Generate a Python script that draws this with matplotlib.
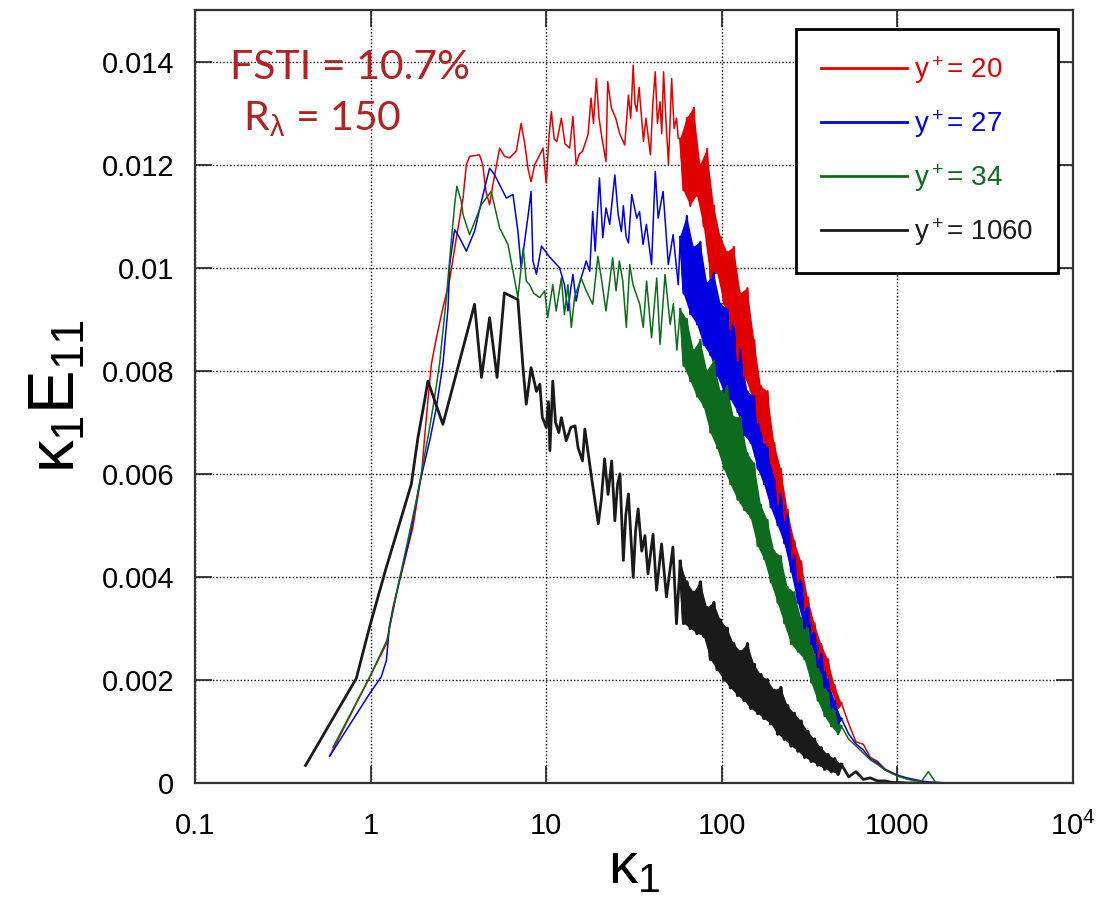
import numpy as np
import matplotlib
matplotlib.use('Agg')
from matplotlib import pyplot as plt
from matplotlib.ticker import NullLocator

# wavenumber grid of the dense (high k) part, shared by all spectra
k_band = [58, 60.6, 63.3, 66.2, 69.2, 72.3, 75.5, 78.9, 82.5, 86.2,
          90.1, 94.1, 98.4, 102.8, 107.4, 112, 117, 123, 128, 134,
          140, 146, 153, 160, 167, 174, 182, 190, 199, 208,
          217, 227, 237, 248, 259, 271, 283, 296, 309, 323,
          337, 352, 368, 385, 402, 420, 439, 459, 480,
          528, 580, 640, 700, 770, 850, 935, 1030, 1130, 1240,
          1370, 1500, 1650, 1800, 2000]
n_dense = 49  # points up to k = 480 swing between upper and lower edge

# y+ = 20 (values of k1*E11 in units of 1e-3)
k_red = [0.584, 0.99, 1.23, 1.34, 1.53, 1.74, 1.95, 2.03, 2.12, 2.22,
         2.37, 2.58, 2.81, 3.08, 3.36, 3.51, 3.66, 4.17, 4.35, 4.54,
         4.76, 4.97, 5.43, 5.80, 6.19, 6.75, 7.20, 7.55, 7.90, 8.20,
         8.60, 9.00, 9.60, 10.0, 10.4, 10.7, 11.1, 11.5, 12.2, 12.8,
         13.6, 14.2, 14.8, 15.4, 16.1, 17.3, 18.0, 18.6, 19.3, 20.0,
         20.8, 21.9, 22.4, 23.5, 24.9, 26.2, 28.0, 29.4, 30.3, 31.3,
         32.0, 32.8, 33.8, 35.8, 37.0, 39.2, 40.5, 41.8, 43.0, 44.5,
         45.5, 46.6, 48.0, 49.7, 51.8, 53.5, 55.2, 56.5]
e_red = [0.52, 2.06, 2.70, 3.41, 4.19, 4.96, 6.00, 6.70, 7.42, 8.13,
         8.64, 9.22, 9.74, 10.58, 11.35, 12.00, 12.16, 12.19, 12.00, 11.48,
         11.22, 11.61, 12.32, 12.16, 12.13, 12.26, 12.80, 12.40, 11.90, 11.67,
         12.00, 12.13, 12.32, 11.64, 12.60, 13.03, 12.50, 12.45, 12.90, 12.40,
         12.32, 12.93, 12.00, 12.20, 12.26, 12.58, 13.29, 12.80, 13.67, 12.90,
         12.50, 12.06, 13.61, 13.10, 12.90, 12.60, 12.38, 13.35, 12.90, 13.93,
         13.20, 13.03, 13.50, 12.45, 12.90, 12.19, 13.20, 13.80, 12.80, 13.22,
         12.60, 13.80, 12.90, 12.00, 13.67, 12.70, 12.90, 12.51]
red_band = [12.5, 11.5, 12.9, 11.2, 13.1, 11.4, 12.0, 10.8, 12.3, 9.8,
            11.2, 9.9, 10.6, 9.3, 10.3, 8.8, 10.4, 8.2, 9.5, 7.9,
            9.6, 7.6, 8.6, 7.0, 7.7, 6.6, 7.6, 6.2, 6.6, 5.4,
            6.1, 5.1, 5.3, 4.3, 4.7, 3.9, 4.3, 3.35, 3.6, 2.9,
            3.1, 2.4, 2.7, 2.2, 2.4, 1.8, 1.9, 1.45, 1.55,
            1.15, 0.8, 0.75, 0.5, 0.42, 0.27, 0.2, 0.13, 0.08, 0.05,
            0.025, 0.015, 0.01, 0.005, 0.0]

# y+ = 27
k_blue = [0.584, 0.99, 1.15, 1.23, 1.28, 1.46, 1.67, 1.90, 2.17, 2.37,
          2.58, 2.76, 2.82, 3.01, 3.21, 3.51, 3.91, 4.37, 4.76, 5.09,
          5.93, 6.47, 6.90, 7.20, 7.90, 8.20, 8.40, 8.80, 9.40, 10.2,
          10.5, 11.9, 12.7, 13.3, 13.8, 14.2, 14.8, 15.5, 16.9, 17.7,
          18.4, 19.0, 20.1, 21.0, 21.9, 23.0, 24.6, 25.7, 26.8, 27.5,
          28.5, 29.4, 30.7, 32.8, 34.0, 35.6, 37.2, 39.8, 41.8, 43.4,
          46.3, 49.6, 52.8, 56.5]
e_blue = [0.52, 1.74, 2.06, 2.38, 3.03, 3.93, 4.77, 5.80, 6.64, 7.29,
          8.13, 9.22, 10.06, 10.74, 10.58, 10.32, 10.71, 11.42, 11.93, 11.80,
          11.35, 11.42, 10.71, 10.00, 11.03, 11.48, 10.13, 9.87, 10.42, 10.26,
          10.20, 10.00, 9.67, 9.16, 9.60, 9.87, 9.35, 9.70, 10.13, 9.93,
          11.09, 10.32, 11.74, 10.58, 11.16, 10.84, 11.80, 11.03, 10.70, 11.20,
          10.60, 10.48, 11.42, 10.96, 11.09, 10.45, 10.84, 10.06, 11.87, 10.96,
          11.48, 10.06, 10.64, 9.67]
blue_band = [10.6, 9.5, 11.0, 9.1, 10.4, 8.9, 10.5, 8.5, 9.7, 8.3,
             9.9, 7.9, 9.3, 7.6, 9.2, 7.45, 8.84, 7.2, 8.4, 6.75,
             7.6, 6.6, 7.5, 6.1, 6.8, 5.8, 6.5, 5.35, 5.9, 5.0,
             5.6, 4.65, 5.2, 4.1, 4.4, 3.5, 3.9, 3.0, 3.4, 2.7,
             2.9, 2.25, 2.5, 1.85, 2.0, 1.45, 1.6, 1.15, 1.25,
             0.95, 0.76, 0.64, 0.47, 0.39, 0.26, 0.19, 0.14, 0.1, 0.07,
             0.04, 0.02, 0.01, 0.005, 0.0]

# y+ = 34
k_green = [0.61, 0.99, 1.25, 1.40, 1.60, 1.82, 1.99, 2.17, 2.30, 2.47,
           2.70, 2.88, 3.01, 3.10, 3.28, 3.36, 3.66, 4.27, 4.86, 5.43,
           6.06, 6.47, 6.90, 7.40, 7.70, 8.04, 8.50, 9.18, 9.80, 10.2,
           10.9, 11.4, 12.2, 12.7, 13.3, 13.9, 14.5, 15.8, 16.9, 18.4,
           19.7, 20.6, 21.9, 23.9, 25.0, 26.1, 27.3, 28.6, 29.9, 31.2,
           34.1, 35.7, 37.3, 39.8, 42.6, 44.5, 47.5, 50.8, 53.0, 55.5]
e_green = [0.69, 2.06, 2.80, 3.67, 4.58, 5.48, 6.19, 6.90, 7.42, 8.13,
           9.42, 10.51, 11.22, 11.58, 11.29, 11.03, 10.64, 11.22, 11.48, 10.77,
           10.45, 9.93, 9.42, 10.38, 9.74, 9.67, 9.50, 9.42, 9.55, 9.03,
           9.67, 9.16, 9.80, 9.09, 9.67, 8.84, 9.42, 9.80, 9.55, 9.29,
           10.22, 9.80, 9.16, 10.19, 9.55, 10.13, 9.74, 8.84, 10.06, 9.67,
           9.29, 8.84, 9.74, 8.64, 9.80, 8.51, 9.87, 8.90, 9.30, 8.40]
green_band = [9.2, 8.1, 9.0, 7.8, 8.4, 7.5, 8.6, 7.3, 8.0, 6.8,
              8.2, 6.5, 7.6, 6.1, 7.7, 5.8, 7.1, 5.5, 7.1, 5.3,
              6.4, 5.15, 6.2, 4.6, 5.4, 4.35, 5.1, 3.9, 4.5, 3.5,
              4.4, 3.1, 3.8, 2.7, 3.7, 2.55, 3.2, 2.4, 3.0, 1.95,
              2.5, 1.6, 2.1, 1.3, 1.75, 1.1, 1.4, 0.95, 1.1,
              0.85, 0.72, 0.58, 0.45, 0.36, 0.25, 0.18, 0.12, 0.08, 0.05,
              0.03, 0.22, 0.01, 0.005, 0.0]

# y+ = 1060
k_black = [0.426, 0.829, 0.987, 1.23, 1.46, 1.706, 1.86, 2.03, 2.12, 2.58,
           3.91, 4.28, 4.76, 5.25, 5.78, 6.90, 7.40, 7.70, 8.20, 8.80,
           9.20, 9.50, 10.0, 10.3, 10.5, 10.9, 11.3, 11.8, 12.2, 13.0,
           13.8, 14.6, 15.2, 16.1, 16.6, 18.0, 19.8, 20.6, 21.5, 22.5,
           23.6, 24.6, 25.5, 26.3, 27.5, 28.4, 29.4, 31.3, 32.3, 33.4,
           35.0, 36.5, 38.0, 40.6, 42.5, 45.4, 48.4, 52.7, 55.2]
e_black = [0.34, 2.03, 3.03, 4.19, 5.03, 5.80, 6.70, 7.42, 7.80, 6.96,
           9.29, 7.87, 9.03, 7.87, 9.51, 9.38, 8.00, 7.35, 8.06, 7.60,
           7.74, 7.10, 6.90, 7.40, 6.45, 7.80, 7.00, 6.80, 7.09, 6.64,
           6.90, 6.93, 6.50, 6.25, 6.87, 6.00, 5.03, 5.50, 6.29, 5.60,
           6.25, 5.09, 5.80, 6.00, 4.32, 5.20, 5.61, 3.99, 4.90, 5.32,
           4.50, 4.80, 4.06, 4.83, 3.74, 4.64, 3.61, 4.58, 3.09]
black_band = [4.3, 3.1, 3.9, 3.0, 3.7, 2.9, 3.9, 2.85, 3.4, 2.4,
              3.5, 2.2, 3.16, 2.0, 3.0, 1.85, 2.7, 1.7, 2.55, 1.6,
              2.7, 1.45, 2.3, 1.35, 2.1, 1.25, 2.0, 1.15, 1.8, 0.95,
              1.85, 0.85, 1.5, 0.72, 1.35, 0.62, 1.2, 0.5, 1.0, 0.42,
              0.85, 0.35, 0.68, 0.27, 0.55, 0.22, 0.47, 0.17, 0.36,
              0.12, 0.22, 0.07, 0.1, 0.04, 0.04, 0.01, 0.01, 0.0, 0.0,
              np.nan, np.nan, np.nan, np.nan, np.nan]

labels = [r'y$^+$= 20', r'y$^+$= 27', r'y$^+$= 34', r'y$^+$= 1060']
colors = ['#e00000', '#0000e0', '#0d6b1d', '#1a1a1a']

plt.rcParams['font.family'] = ['Liberation Sans', 'DejaVu Sans']
plt.rcParams['mathtext.fontset'] = 'custom'
plt.rcParams['mathtext.rm'] = 'Liberation Sans'
plt.rcParams['mathtext.it'] = 'Liberation Sans'
plt.rcParams['mathtext.bf'] = 'Liberation Sans:bold'

fig = plt.figure(figsize=(11.03, 9.01), dpi=100)
ax = fig.add_axes([195 / 1103, 118 / 901, 878 / 1103, 773 / 901])

series = [(k_red, e_red, red_band), (k_blue, e_blue, blue_band),
          (k_green, e_green, green_band), (k_black, e_black, black_band)]
handles = []
for (k, e, band), col in zip(series, colors):
    black = col == '#1a1a1a'
    band_e = np.array(band) * 1e-3
    kk = np.concatenate([k, k_band])
    ee = np.concatenate([e, band]) * 1e-3
    line, = ax.plot(kk, ee, color=col, lw=2.0 if black else 1.1)
    # dense part of the spectrum: fill between the swing tops and bottoms
    kd = np.array(k_band[:n_dense])
    ed = band_e[:n_dense]
    poly_k = np.concatenate([kd[0::2], kd[1::2][::-1]])
    poly_e = np.concatenate([ed[0::2], ed[1::2][::-1]])
    ax.fill(poly_k, poly_e, color=col, lw=0)
    ax.plot(kd, ed, color=col, lw=2.4 if black else 1.6)
    handles.append(line)

ax.set_xscale('log')
ax.set_xlim(0.1, 1e4)
ax.set_ylim(0, 0.015)
ax.set_xticks([0.1, 1, 10, 100, 1000, 1e4])
ax.set_xticklabels(['0.1', '1', '10', '100', '1000', r'10$^4$'])
ax.xaxis.set_minor_locator(NullLocator())
yt = [0, 0.002, 0.004, 0.006, 0.008, 0.01, 0.012, 0.014]
ax.set_yticks(yt)
ax.set_yticklabels(['0', '0.002', '0.004', '0.006', '0.008', '0.01', '0.012', '0.014'])

ax.tick_params(which='major', direction='in', length=12, width=1.2,
               top=True, right=True, labelsize=21, color='#222222')
ax.tick_params(axis='x', pad=21)
ax.tick_params(axis='y', pad=15)
ax.grid(True, which='major', color='black', linestyle=(0, (1, 1.5)), linewidth=1.0)
ax.set_axisbelow(True)
for s in ax.spines.values():
    s.set_linewidth(1.6)
    s.set_color('#333333')

ax.set_xlabel(r'$\kappa_1$', fontsize=42, labelpad=0)
ax.set_ylabel(r'$\kappa_1 E_{11}$', fontsize=47, labelpad=10)

leg = ax.legend(handles, labels, loc='upper right', bbox_to_anchor=(0.983, 0.975),
                fontsize=20, handlelength=3.1, handletextpad=0.25, labelspacing=0.8,
                borderpad=0.9, borderaxespad=0, frameon=True, fancybox=False,
                edgecolor='black', framealpha=1, labelcolor='linecolor')
leg.get_frame().set_linewidth(2)
for h in leg.get_lines():
    h.set_linewidth(2.0)

fig.text(230 / 1103, 1 - 79 / 901, 'FSTI = 10.7%', color='#b22222', fontsize=29.5,
         family=['Lato', 'DejaVu Sans'], va='baseline', ha='left')
fig.text(243 / 1103, 1 - 130 / 901, r'R$_{\lambda}$ = 150', color='#b22222', fontsize=29.5,
         family=['Lato', 'DejaVu Sans'], va='baseline', ha='left')

fig.savefig('out.png', dpi=100)
